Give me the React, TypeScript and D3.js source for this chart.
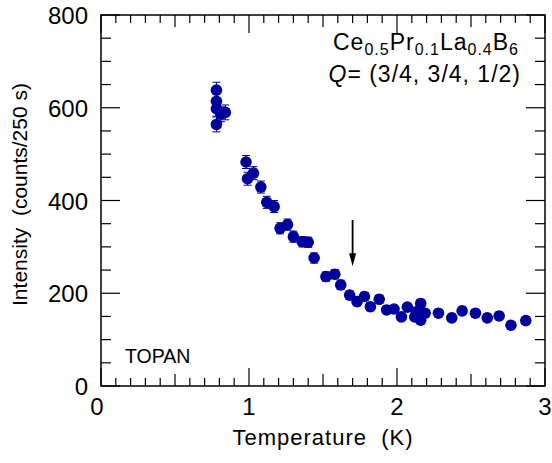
import React, { useEffect, useRef } from 'react';
import * as d3 from 'd3';

// temperature (K) and intensity (counts / 250 s)
const temps = [
  0.78, 0.78, 0.78, 0.81, 0.84, 0.78,
  0.98, 1.03, 0.99, 1.08, 1.12, 1.17, 1.21, 1.26, 1.30, 1.36, 1.40,
  1.44, 1.52, 1.58, 1.62, 1.68, 1.73, 1.78, 1.82, 1.88, 1.93, 1.98,
  2.03, 2.07, 2.12, 2.13, 2.16, 2.16, 2.16, 2.19, 2.28, 2.37, 2.44,
  2.53, 2.61, 2.69, 2.77, 2.87,
];
const counts = [
  638, 614, 598, 586, 590, 564,
  483, 459, 447, 429, 396, 387, 340, 348, 322, 311, 310,
  276, 236, 241, 218, 196, 182, 193, 171, 187, 164, 166,
  149, 170, 149, 160, 178, 157, 142, 157, 157, 147, 162,
  157, 147, 151, 131, 141,
];
const errors = [
  17, 17, 16, 16, 16, 16,
  14, 14, 14, 13, 13, 13, 12, 12, 12, 11, 11,
  11, 10, 10, 10, 9, 9, 9, 9, 9, 8, 8,
  8, 8, 8, 8, 9, 8, 8, 8, 8, 8, 8,
  8, 8, 8, 7, 8,
];

const xMajor = [0, 1, 2, 3];
const yMajor = [0, 200, 400, 600, 800];
const arrowT = 1.7;
const arrowFrom = 358;
const arrowTo = 258;

const W = 552;
const H = 463;
const margin = { left: 101, right: 7, top: 15, bottom: 77 };
const font = '"Liberation Sans", Arial, Helvetica, sans-serif';
const blue = '#00009c';
const nb = '\u00a0';

export default function App() {
  const svgRef = useRef<SVGSVGElement>(null);

  useEffect(() => {
    const svg = d3.select(svgRef.current);
    svg.selectAll('*').remove();

    const x = d3.scaleLinear().domain([0, 3]).range([margin.left, W - margin.right]);
    const y = d3.scaleLinear().domain([0, 800]).range([H - margin.bottom, margin.top]);
    const x0 = x(0), x1 = x(3), y0 = y(0), y1 = y(800);

    const g = svg.append('g');

    // ticks on all four sides, pointing inward
    const xTicks = d3.range(0, 30.5, 1).map((d) => d / 10);
    xTicks.forEach((t) => {
      const k = Math.round(t * 10);
      const len = k % 10 === 0 ? 18 : k % 5 === 0 ? 12 : 8;
      g.append('line').attr('x1', x(t)).attr('x2', x(t)).attr('y1', y0).attr('y2', y0 - len)
        .attr('stroke', '#000').attr('stroke-width', 1.2);
      g.append('line').attr('x1', x(t)).attr('x2', x(t)).attr('y1', y1).attr('y2', y1 + len)
        .attr('stroke', '#000').attr('stroke-width', 1.2);
    });
    const yTicks = d3.range(0, 801, 50);
    yTicks.forEach((v) => {
      const len = v % 200 === 0 ? 19 : 10;
      g.append('line').attr('x1', x0).attr('x2', x0 + len).attr('y1', y(v)).attr('y2', y(v))
        .attr('stroke', '#000').attr('stroke-width', 1.2);
      g.append('line').attr('x1', x1).attr('x2', x1 - len).attr('y1', y(v)).attr('y2', y(v))
        .attr('stroke', '#000').attr('stroke-width', 1.2);
    });

    g.append('rect').attr('x', x0).attr('y', y1).attr('width', x1 - x0).attr('height', y0 - y1)
      .attr('fill', 'none').attr('stroke', '#000').attr('stroke-width', 1.5);

    // tick labels
    g.selectAll('.xl').data(xMajor).enter().append('text')
      .attr('x', (d) => x(d) - (d === 0 ? 4 : 0)).attr('y', y0 + 29)
      .attr('text-anchor', 'middle').style('font-family', font).style('font-size', '24px')
      .text((d) => d);
    g.selectAll('.yl').data(yMajor).enter().append('text')
      .attr('x', x0 - 13).attr('y', (d) => y(d) + 9)
      .attr('text-anchor', 'end').style('font-family', font).style('font-size', '24px')
      .text((d) => d);

    // axis titles
    g.append('text').attr('x', (x0 + x1) / 2).attr('y', 445)
      .attr('text-anchor', 'middle').style('font-family', font).style('font-size', '22px')
      .style('letter-spacing', '1px').text(`Temperature ${nb}(K)`);
    g.append('text').attr('transform', `translate(27,${(y0 + y1) / 2 - 6}) rotate(-90)`)
      .attr('text-anchor', 'middle').style('font-family', font).style('font-size', '21px')
      .text(`Intensity ${nb}(counts/250 s)`);

    // error bars + points
    const pts = temps.map((t, i) => ({ t, c: counts[i], e: errors[i] }));
    const eb = g.append('g').attr('stroke', blue).attr('stroke-width', 1);
    pts.forEach((p) => {
      eb.append('line').attr('x1', x(p.t)).attr('x2', x(p.t)).attr('y1', y(p.c - p.e)).attr('y2', y(p.c + p.e));
      [p.c - p.e, p.c + p.e].forEach((v) => {
        eb.append('line').attr('x1', x(p.t) - 4).attr('x2', x(p.t) + 4).attr('y1', y(v)).attr('y2', y(v));
      });
    });
    g.selectAll('circle').data(pts).enter().append('circle')
      .attr('cx', (d) => x(d.t)).attr('cy', (d) => y(d.c)).attr('r', 5.8).attr('fill', blue);

    // arrow
    const ax = x(arrowT);
    g.append('line').attr('x1', ax).attr('x2', ax).attr('y1', y(arrowFrom)).attr('y2', y(arrowTo) - 8)
      .attr('stroke', '#000').attr('stroke-width', 1.8);
    g.append('path')
      .attr('d', `M${ax - 3.5},${y(arrowTo) - 13} L${ax + 3.5},${y(arrowTo) - 13} L${ax},${y(arrowTo)} Z`)
      .attr('fill', '#000');

    // annotations
    const t1 = g.append('text').attr('x', 519).attr('y', 50).attr('text-anchor', 'end')
      .style('font-family', font).style('font-size', '23px').style('letter-spacing', '1px');
    const parts: [string, boolean][] = [['Ce', false], ['0.5', true], ['Pr', false], ['0.1', true], ['La', false], ['0.4', true], ['B', false], ['6', true]];
    parts.forEach(([s, sub], i) => {
      const ts = t1.append('tspan').text(s);
      if (sub) ts.attr('dy', 5).style('font-size', '16px');
      else if (i > 0) ts.attr('dy', -5);
    });
    const t2 = g.append('text').attr('x', 521).attr('y', 82).attr('text-anchor', 'end')
      .style('font-family', font).style('font-size', '23px').style('letter-spacing', '1px');
    t2.append('tspan').style('font-style', 'italic').text('Q');
    t2.append('tspan').text('= (3/4, 3/4, 1/2)');

    g.append('text').attr('x', 125).attr('y', 363)
      .style('font-family', font).style('font-size', '19.5px').text('TOPAN');
  }, []);

  return (
    <svg ref={svgRef} width={W} height={H} style={{ display: 'block', position: 'absolute', left: 0, top: 0 }} />
  );
}
